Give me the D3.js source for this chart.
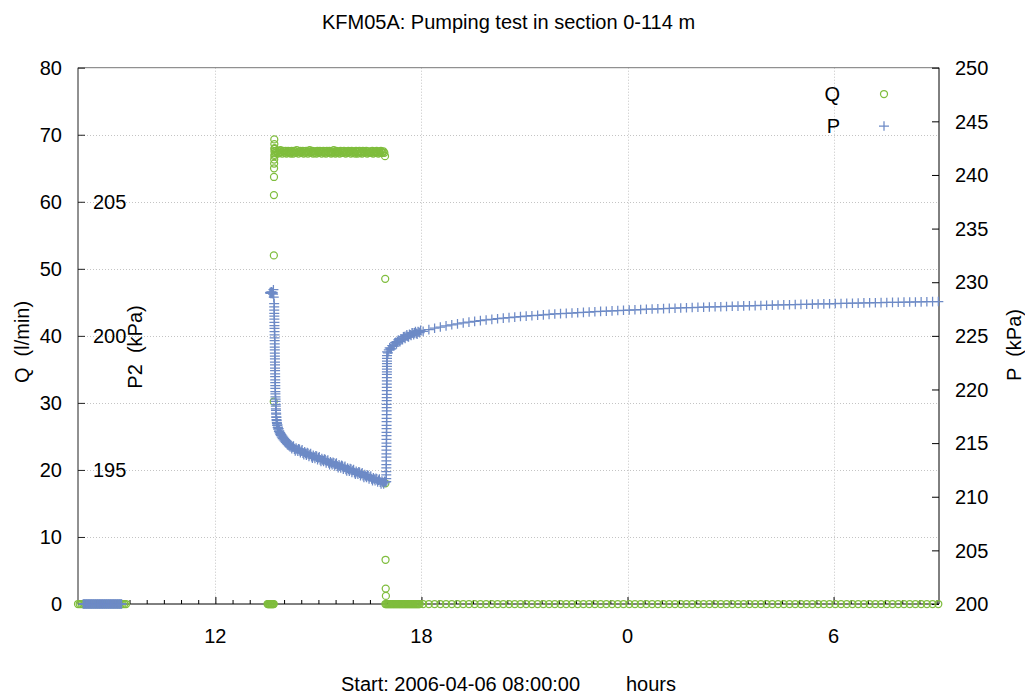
<!DOCTYPE html>
<html>
<head>
<meta charset="utf-8">
<script src="https://cdn.jsdelivr.net/npm/d3@7"></script>
<style>
  html, body { margin: 0; padding: 0; background: #fff; }
  svg { display: block; font-family: "Liberation Sans", Arial, sans-serif; }
</style>
</head>
<body>
<svg id="chart" width="1025" height="697"></svg>
<script>
// ---- axes ----
const hourTicks = [4, 10, 16, 22];
const hourLabels = ["12", "18", "0", "6"];
const qTicks = [0, 10, 20, 30, 40, 50, 60, 70, 80];
const pTicks = [200, 205, 210, 215, 220, 225, 230, 235, 240, 245, 250];
const p2Ticks = [195, 200, 205];

// ---- flow rate Q (l/min); hours after 2006-04-06 08:00 ----
const qRestA = { start: 0.00, step: 0.05, values: [0,0,0,0,0,0,0,0,0,0,0,0,0,0,0,0,0,0,0,0,0,0,0,0,0,0,0,0,0] };
const qRestB = { start: 5.52, step: 0.02, values: [0,0,0,0,0,0,0,0,0,0] };
const qStart = [[5.700, 30.2], [5.703, 52.0], [5.705, 61.0], [5.707, 63.7], [5.709, 65.0], [5.711, 65.7],
                [5.713, 66.3], [5.715, 69.3], [5.717, 68.6], [5.719, 66.8], [5.720, 67.9], [5.722, 67.0], [5.724, 68.0]];
const qPumping = { start: 5.72, step: 0.025, values: [
  67.5, 67.3, 67.6, 67.4, 67.2, 67.6, 67.3, 67.7, 67.4, 67.2, 67.6, 67.5, 67.3, 67.6, 67.2, 67.4,
  67.6, 67.3, 67.5, 67.2, 67.6, 67.4, 67.2, 67.6, 67.5, 67.3, 67.7, 67.4, 67.2, 67.5, 67.6, 67.3,
  67.4, 67.6, 67.2, 67.5, 67.3, 67.6, 67.4, 67.2, 67.5, 67.7, 67.3, 67.4, 67.6, 67.2, 67.5, 67.3,
  67.5, 67.2, 67.6, 67.4, 67.3, 67.6, 67.5, 67.2, 67.4, 67.6, 67.3, 67.5, 67.2, 67.6, 67.4, 67.3,
  67.6, 67.4, 67.2, 67.5, 67.3, 67.7, 67.4, 67.2, 67.6, 67.3, 67.5, 67.4, 67.2, 67.6, 67.3, 67.5,
  67.3, 67.6, 67.4, 67.2, 67.5, 67.3, 67.6, 67.4, 67.5, 67.2, 67.6, 67.3, 67.5, 67.4, 67.2, 67.6,
  67.4, 67.2, 67.5, 67.6, 67.3, 67.4, 67.2, 67.6, 67.5, 67.3, 67.4, 67.6, 67.2, 67.5, 67.3, 67.4,
  67.5, 67.3, 67.6, 67.2, 67.4, 67.5, 67.3, 67.6, 67.4, 67.2, 67.5, 67.3, 67.6, 67.4, 67.3, 67.5, 67.3] };
const qStop = [[8.940, 66.8], [8.945, 48.5], [8.950, 18.0], [8.955, 6.6], [8.960, 2.3], [8.965, 1.2]];
const qRestC = { start: 8.95, step: 0.025, values: [
  0,0,0,0,0,0,0,0,0,0,0,0,0,0,0,0,0,0,0,0,0,0,0,0,0,0,0,0,0,0,0,0,0,0,0,0,0,0,0,0,0] };
const qTail = { start: 10.05, step: 1 / 6, values: [
  0,0,0,0,0,0,0,0,0,0,0,0,0,0,0,0,0,0,0,0,0,0,0,0,0,0,0,0,0,0,
  0,0,0,0,0,0,0,0,0,0,0,0,0,0,0,0,0,0,0,0,0,0,0,0,0,0,0,0,0,0,
  0,0,0,0,0,0,0,0,0,0,0,0,0,0,0,0,0,0,0,0,0,0,0,0,0,0,0,0,0,0,0] };

// ---- pressure P (kPa) ----
const pRestA = { start: 0.15, step: 0.02, values: [
  200,200,200,200,200,200,200,200,200,200,200,200,200,200,200,200,200,200,200,200,
  200,200,200,200,200,200,200,200,200,200,200,200,200,200,200,200,200,200,200,200,
  200,200,200,200,200,200,200,200,200,200,200,200,200,200,200,200,200] };
const pBefore = { start: 5.59, step: 0.01, values: [229.0, 229.05, 228.95, 229.0, 229.1, 228.95, 229.0, 229.05, 229.0, 228.9, 229.3, 228.6] };
const pDrop = { start: 5.712, step: 0.0012, values: [
  228.0, 227.7, 227.4, 227.1, 226.85, 226.55, 226.25, 225.95, 225.7, 225.4, 225.1, 224.8, 224.55, 224.25, 223.95,
  223.7, 223.4, 223.1, 222.85, 222.55, 222.3, 222.0, 221.75, 221.45, 221.2, 220.9, 220.65, 220.35, 220.1, 219.8] };
const pBend = [[5.748, 219.6], [5.750, 219.3], [5.752, 219.1], [5.755, 218.9], [5.757, 218.6], [5.760, 218.45],
               [5.762, 218.2], [5.765, 218.05], [5.768, 217.8], [5.770, 217.7], [5.773, 217.45], [5.776, 217.4],
               [5.780, 217.2], [5.785, 217.1], [5.790, 216.9], [5.795, 216.85], [5.800, 216.65], [5.808, 216.7],
               [5.815, 216.45], [5.823, 216.5], [5.830, 216.3], [5.840, 216.35], [5.850, 216.1], [5.860, 216.15],
               [5.870, 215.95], [5.880, 216.0], [5.890, 215.8], [5.900, 215.9], [5.910, 215.7], [5.922, 215.78],
               [5.935, 215.55], [5.948, 215.68], [5.960, 215.42], [5.975, 215.55], [5.990, 215.3], [6.005, 215.45],
               [6.020, 215.18], [6.035, 215.33], [6.050, 215.06], [6.065, 215.22], [6.080, 214.95], [6.095, 215.12],
               [6.110, 214.85], [6.125, 215.0], [6.140, 214.75], [6.155, 214.9], [6.170, 214.66], [6.185, 214.82]];
const pDrawdown = { start: 6.20, step: 0.025, values: [
  214.78, 214.47, 214.64, 214.73, 214.44, 214.28, 214.54, 214.41, 214.25, 214.48,
  214.42, 214.11, 214.27, 214.37, 214.07, 213.91, 214.18, 214.04, 213.88, 214.12,
  214.06, 213.76, 213.93, 214.03, 213.74, 213.59, 213.86, 213.73, 213.58, 213.82,
  213.76, 213.46, 213.63, 213.73, 213.44, 213.29, 213.56, 213.43, 213.28, 213.52,
  213.46, 213.16, 213.33, 213.43, 213.14, 212.99, 213.26, 213.13, 212.98, 213.22,
  213.17, 212.87, 213.04, 213.14, 212.85, 212.70, 212.97, 212.84, 212.69, 212.93,
  212.87, 212.57, 212.74, 212.84, 212.55, 212.40, 212.67, 212.54, 212.39, 212.63,
  212.57, 212.27, 212.44, 212.54, 212.25, 212.10, 212.37, 212.24, 212.09, 212.33,
  212.27, 211.97, 212.14, 212.24, 211.95, 211.80, 212.07, 211.94, 211.79, 212.03,
  211.97, 211.67, 211.84, 211.94, 211.65, 211.50, 211.77, 211.64, 211.49, 211.73,
  211.67, 211.37, 211.54, 211.64, 211.35, 211.20, 211.47, 211.34, 211.19, 211.43, 211.37] };
const pRise = { start: 8.975, step: 0.0006, values: [
  211.4, 211.7, 212.05, 212.35, 212.7, 213.0, 213.35, 213.7, 214.0, 214.35, 214.7, 215.0, 215.35, 215.7,
  216.0, 216.35, 216.65, 217.0, 217.3, 217.65, 218.0, 218.3, 218.6, 218.95, 219.25, 219.55, 219.9, 220.2,
  220.5, 220.8, 221.1, 221.4, 221.65, 221.9, 222.15, 222.4, 222.65, 222.9, 223.15] };
const pRecovery = { start: 9.00, step: 0.025, values: [
  223.50, 223.41, 223.69, 223.89, 223.79, 223.78, 224.08, 224.08, 224.05, 224.35,
  224.40, 224.24, 224.46, 224.62, 224.48, 224.45, 224.73, 224.70, 224.65, 224.92,
  224.94, 224.76, 224.96, 225.10, 224.94, 224.89, 225.15, 225.10, 225.03, 225.28,
  225.29, 225.10, 225.28, 225.41, 225.23, 225.16, 225.41, 225.35, 225.29, 225.51] };
const pTail = { start: 10.05, step: 1 / 6, values: [
  225.42, 225.58, 225.71, 225.82, 225.93, 226.03, 226.12, 226.20, 226.28, 226.35, 226.42, 226.48, 226.54,
  226.60, 226.65, 226.70, 226.75, 226.80, 226.84, 226.88, 226.92, 226.96, 227.00, 227.04, 227.07, 227.10,
  227.13, 227.16, 227.19, 227.22, 227.25, 227.28, 227.30, 227.33, 227.36, 227.38, 227.41, 227.43, 227.45,
  227.48, 227.50, 227.52, 227.54, 227.56, 227.58, 227.60, 227.62, 227.64, 227.66, 227.67, 227.69, 227.71,
  227.72, 227.74, 227.76, 227.77, 227.79, 227.80, 227.82, 227.83, 227.85, 227.86, 227.88, 227.89, 227.90,
  227.92, 227.93, 227.94, 227.96, 227.97, 227.98, 227.99, 228.01, 228.02, 228.03, 228.04, 228.05, 228.07,
  228.08, 228.09, 228.10, 228.11, 228.12, 228.13, 228.14, 228.15, 228.16, 228.17, 228.18, 228.19, 228.20] };

// logger blocks with a fixed sampling interval -> [hour, value] pairs
const sampled = blk => blk.values.map((v, i) => [blk.start + i * blk.step, v]);

const qData = [].concat(sampled(qRestA), sampled(qRestB), qStart, sampled(qPumping), qStop, sampled(qRestC), sampled(qTail));
const pData = [].concat(sampled(pRestA), sampled(pBefore), sampled(pDrop), pBend, sampled(pDrawdown),
                        sampled(pRise), sampled(pRecovery), sampled(pTail));

// ---- layout ----
const plotL = 78, plotR = 939, plotT = 67.7, plotB = 604;
const green = "#7fbd3d", blue = "#6d8ac6";
const fontSize = 20;

const svg = d3.select("#chart");
const x = d3.scaleLinear().domain([0, 25.07]).range([plotL, plotR]);
const yQ = d3.scaleLinear().domain([0, 80]).range([plotB, plotT]);
const yP = d3.scaleLinear().domain([200, 250]).range([plotB, plotT]);
const yP2 = d3.scaleLinear().domain([190, 210]).range([plotB, plotT]);

// grid
const grid = svg.append("g").attr("stroke", "#c4c4c4").attr("stroke-width", 1).attr("stroke-dasharray", "1,2");
grid.selectAll("line.h").data(qTicks.filter(v => v > 0 && v < 80)).join("line").attr("class", "h")
  .attr("x1", plotL).attr("x2", plotR).attr("y1", d => Math.round(yQ(d)) + 0.5).attr("y2", d => Math.round(yQ(d)) + 0.5);
grid.selectAll("line.v").data(hourTicks).join("line").attr("class", "v")
  .attr("y1", plotT).attr("y2", plotB).attr("x1", d => Math.round(x(d)) + 0.5).attr("x2", d => Math.round(x(d)) + 0.5);

// border
svg.append("line").attr("x1", plotL).attr("x2", plotR).attr("y1", plotT).attr("y2", plotT).attr("stroke", "#777");
svg.append("line").attr("x1", plotL).attr("x2", plotR).attr("y1", plotB).attr("y2", plotB).attr("stroke", "#000");
svg.append("line").attr("x1", plotL).attr("x2", plotL).attr("y1", plotT).attr("y2", plotB).attr("stroke", "#222");
svg.append("line").attr("x1", plotR).attr("x2", plotR).attr("y1", plotT).attr("y2", plotB).attr("stroke", "#000");

// left Q axis (ticks point inward)
const axQ = svg.append("g").attr("transform", `translate(${plotL},0)`)
  .call(d3.axisRight(yQ).tickValues(qTicks).tickSize(7).tickFormat(""));
axQ.select(".domain").remove();
axQ.selectAll("line").attr("stroke", "#222");
svg.append("g").selectAll("text").data(qTicks).join("text")
  .attr("x", 62).attr("y", d => yQ(d)).attr("dy", "0.36em").attr("text-anchor", "end")
  .attr("font-size", fontSize).text(d => d);

// right P axis
const axP = svg.append("g").attr("transform", `translate(${plotR},0)`)
  .call(d3.axisLeft(yP).tickValues(pTicks).tickSize(7).tickFormat(""));
axP.select(".domain").remove();
axP.selectAll("line").attr("stroke", "#000");
svg.append("g").selectAll("text").data(pTicks).join("text")
  .attr("x", 955).attr("y", d => yP(d)).attr("dy", "0.36em").attr("text-anchor", "start")
  .attr("font-size", fontSize).text(d => d);

// inner P2 labels
svg.append("g").selectAll("text").data(p2Ticks).join("text")
  .attr("x", 93).attr("y", d => yP2(d)).attr("dy", "0.36em").attr("text-anchor", "start")
  .attr("font-size", fontSize).text(d => d);

// bottom time axis: major ticks every 6 h, minor every half hour
const minor = d3.range(0.5, 25.07, 0.5).filter(h => !hourTicks.includes(h));
const axMinor = svg.append("g").attr("transform", `translate(0,${plotB})`)
  .call(d3.axisTop(x).tickValues(minor).tickSize(4).tickFormat(""));
axMinor.select(".domain").remove();
axMinor.selectAll("line").attr("stroke", "#000");
const axMajor = svg.append("g").attr("transform", `translate(0,${plotB})`)
  .call(d3.axisTop(x).tickValues(hourTicks).tickSize(7).tickFormat(""));
axMajor.select(".domain").remove();
axMajor.selectAll("line").attr("stroke", "#000");
svg.append("g").selectAll("text").data(hourTicks).join("text")
  .attr("x", d => x(d)).attr("y", 643).attr("text-anchor", "middle")
  .attr("font-size", fontSize).text((d, i) => hourLabels[i]);

// titles
svg.append("text").attr("x", (plotL + plotR) / 2).attr("y", 29).attr("text-anchor", "middle")
  .attr("font-size", fontSize).text("KFM05A: Pumping test in section 0-114 m");
svg.append("text").attr("x", 341).attr("y", 691).attr("font-size", fontSize).text("Start: 2006-04-06 08:00:00");
svg.append("text").attr("x", 626).attr("y", 691).attr("font-size", fontSize).text("hours");
svg.append("text").attr("transform", "translate(22,342) rotate(-90)").attr("dy", "0.36em")
  .attr("text-anchor", "middle").attr("font-size", fontSize).attr("xml:space", "preserve").text("Q  (l/min)");
svg.append("text").attr("transform", "translate(135,347) rotate(-90)").attr("dy", "0.36em")
  .attr("text-anchor", "middle").attr("font-size", fontSize).attr("xml:space", "preserve").text("P2  (kPa)");
svg.append("text").attr("transform", "translate(1014,345) rotate(-90)").attr("dy", "0.36em")
  .attr("text-anchor", "middle").attr("font-size", fontSize).attr("xml:space", "preserve").text("P  (kPa)");

// markers
const plusPath = "M-5,0H5M0,-4.8V4.8";
const markW = 1.25;
svg.append("g").selectAll("circle").data(qData).join("circle")
  .attr("cx", d => x(d[0])).attr("cy", d => yQ(d[1])).attr("r", 3.5)
  .attr("fill", "none").attr("stroke", green).attr("stroke-width", markW);
svg.append("g").selectAll("path").data(pData).join("path")
  .attr("transform", d => `translate(${x(d[0])},${yP(d[1])})`).attr("d", plusPath)
  .attr("fill", "none").attr("stroke", blue).attr("stroke-width", markW);

// legend
svg.append("text").attr("x", 840).attr("y", 94).attr("dy", "0.36em").attr("text-anchor", "end")
  .attr("font-size", fontSize).text("Q");
svg.append("circle").attr("cx", 884).attr("cy", 94).attr("r", 3.5)
  .attr("fill", "none").attr("stroke", green).attr("stroke-width", markW);
svg.append("text").attr("x", 840).attr("y", 126).attr("dy", "0.36em").attr("text-anchor", "end")
  .attr("font-size", fontSize).text("P");
svg.append("path").attr("transform", "translate(884,126)").attr("d", plusPath)
  .attr("fill", "none").attr("stroke", blue).attr("stroke-width", markW);
</script>
</body>
</html>
